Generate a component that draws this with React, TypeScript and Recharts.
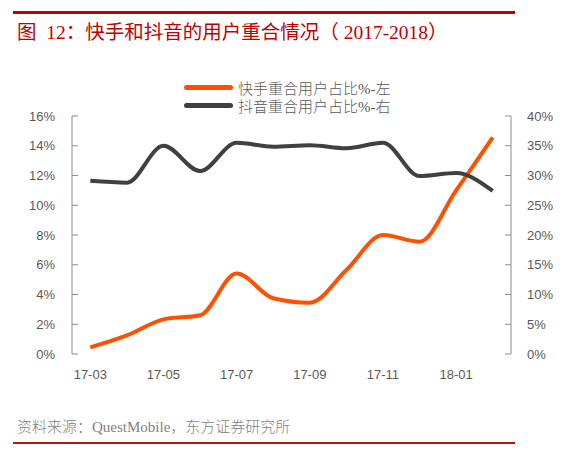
import React from 'react';
import { LineChart, Line, XAxis, YAxis } from 'recharts';

const months = ['17-03', '17-04', '17-05', '17-06', '17-07', '17-08', '17-09', '17-10', '17-11', '17-12', '18-01', '18-02'];
// 快手重合用户占比 (left axis, %)
const kuaishouShare = [0.45, 1.25, 2.33, 2.6, 5.42, 3.75, 3.45, 5.65, 8.0, 7.55, 11.0, 14.57];
// 抖音重合用户占比 (right axis, %)
const douyinShare = [29.1, 28.8, 35.0, 30.75, 35.5, 34.85, 35.1, 34.6, 35.5, 29.9, 30.4, 27.4];
const leftTicks = [0, 2, 4, 6, 8, 10, 12, 14, 16];
const rightTicks = [0, 5, 10, 15, 20, 25, 30, 35, 40];
const frameTicks = [0, 1, 2, 3, 4, 5, 6, 7, 8, 9, 10, 11, 12];
// every other month is labelled, centred on its category
const labelTicks = [0.5, 2.5, 4.5, 6.5, 8.5, 10.5];

const data = months.map((m, i) => ({
  month: m,
  idx: i + 0.5,
  ks: kuaishouShare[i],
  dy: douyinShare[i],
}));

const ORANGE = '#ff5000';
const DARK = '#404040';
const AXIS = '#8c8c8c';
const TICK_TEXT = { fill: '#595959', fontSize: 13, fontFamily: '"Liberation Sans", Arial, sans-serif' };
const SERIF_CN = '"Liberation Serif", "Noto Sans CJK SC", serif';

const LegendRow = ({ color, label }: { color: string; label: string }) => (
  <div style={{ display: 'flex', alignItems: 'center', height: 18 }}>
    <div style={{ width: 49, height: 5, borderRadius: 3, background: color, marginRight: 5 }} />
    <span style={{ fontSize: 15, color: '#595959', fontFamily: SERIF_CN, fontWeight: 300 }}>{label}</span>
  </div>
);

export default function App() {
  return (
    <div style={{ position: 'absolute', left: 0, top: 0, width: 579, height: 453, background: '#fff', overflow: 'hidden' }}>
      <div style={{ position: 'absolute', left: 13, top: 11, width: 502, height: 3, background: '#c00000' }} />
      <div
        style={{
          position: 'absolute',
          left: 17,
          top: 16,
          fontSize: 19.5,
          color: '#c00000',
          fontFamily: SERIF_CN,
          whiteSpace: 'nowrap',
        }}
      >
        图&nbsp;&nbsp;12：快手和抖音的用户重合情况（&nbsp;2017-2018）
      </div>

      <div style={{ position: 'absolute', left: 184, top: 78 }}>
        <LegendRow color={ORANGE} label="快手重合用户占比%-左" />
        <LegendRow color={DARK} label="抖音重合用户占比%-右" />
      </div>

      <div style={{ position: 'absolute', left: 0, top: 0 }}>
        <LineChart width={579} height={453} data={data} margin={{ top: 116, right: 8, bottom: 69, left: 22 }}>
          <XAxis
            xAxisId="frame"
            type="number"
            dataKey="idx"
            domain={[0, 12]}
            ticks={frameTicks}
            tick={false}
            height={0}
            tickSize={-6}
            stroke={AXIS}
          />
          <XAxis
            xAxisId="label"
            type="number"
            dataKey="idx"
            domain={[0, 12]}
            ticks={labelTicks}
            tickFormatter={(v: number) => months[Math.floor(v)]}
            height={30}
            axisLine={false}
            tickLine={false}
            tickSize={0}
            tickMargin={16}
            tick={TICK_TEXT}
          />
          <YAxis
            yAxisId="left"
            width={50}
            domain={[0, 16]}
            ticks={leftTicks}
            tickFormatter={(v: number) => `${v}%`}
            tickSize={-6}
            tickMargin={23}
            stroke={AXIS}
            tick={TICK_TEXT}
          />
          <YAxis
            yAxisId="right"
            orientation="right"
            width={60}
            domain={[0, 40]}
            ticks={rightTicks}
            tickFormatter={(v: number) => `${v}%`}
            tickSize={-6}
            tickMargin={22}
            stroke={AXIS}
            tick={TICK_TEXT}
          />
          <Line
            xAxisId="frame"
            yAxisId="left"
            type="monotone"
            dataKey="ks"
            stroke={ORANGE}
            strokeWidth={4}
            dot={false}
            isAnimationActive={false}
          />
          <Line
            xAxisId="frame"
            yAxisId="right"
            type="monotone"
            dataKey="dy"
            stroke={DARK}
            strokeWidth={4}
            dot={false}
            isAnimationActive={false}
          />
        </LineChart>
      </div>

      <div
        style={{
          position: 'absolute',
          left: 17,
          top: 415,
          fontSize: 15,
          color: '#7f7f7f',
          fontFamily: SERIF_CN,
          fontWeight: 300,
          whiteSpace: 'nowrap',
        }}
      >
        资料来源：QuestMobile，东方证券研究所
      </div>
      <div style={{ position: 'absolute', left: 13, top: 442, width: 502, height: 2, background: '#b0161e' }} />
    </div>
  );
}
